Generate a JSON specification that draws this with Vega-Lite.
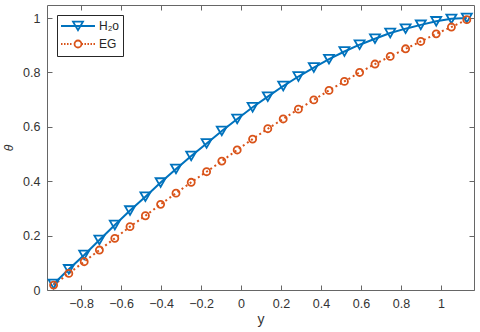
{
  "$schema": "https://vega.github.io/schema/vega-lite/v6.json",
  "width": 427,
  "height": 285,
  "autosize": {"type": "none"},
  "padding": {"left": 47, "top": 5, "right": 6, "bottom": 42},
  "background": "white",
  "data": {
    "values": [
      {"y": -0.937, "theta": 0.022, "series": "H₂o"},
      {"y": -0.861, "theta": 0.076, "series": "H₂o"},
      {"y": -0.784, "theta": 0.129, "series": "H₂o"},
      {"y": -0.708, "theta": 0.184, "series": "H₂o"},
      {"y": -0.631, "theta": 0.239, "series": "H₂o"},
      {"y": -0.555, "theta": 0.292, "series": "H₂o"},
      {"y": -0.478, "theta": 0.343, "series": "H₂o"},
      {"y": -0.402, "theta": 0.395, "series": "H₂o"},
      {"y": -0.325, "theta": 0.445, "series": "H₂o"},
      {"y": -0.249, "theta": 0.493, "series": "H₂o"},
      {"y": -0.172, "theta": 0.539, "series": "H₂o"},
      {"y": -0.096, "theta": 0.585, "series": "H₂o"},
      {"y": -0.019, "theta": 0.629, "series": "H₂o"},
      {"y": 0.058, "theta": 0.672, "series": "H₂o"},
      {"y": 0.134, "theta": 0.711, "series": "H₂o"},
      {"y": 0.211, "theta": 0.75, "series": "H₂o"},
      {"y": 0.287, "theta": 0.785, "series": "H₂o"},
      {"y": 0.364, "theta": 0.818, "series": "H₂o"},
      {"y": 0.44, "theta": 0.849, "series": "H₂o"},
      {"y": 0.517, "theta": 0.877, "series": "H₂o"},
      {"y": 0.593, "theta": 0.902, "series": "H₂o"},
      {"y": 0.67, "theta": 0.924, "series": "H₂o"},
      {"y": 0.746, "theta": 0.945, "series": "H₂o"},
      {"y": 0.823, "theta": 0.961, "series": "H₂o"},
      {"y": 0.899, "theta": 0.975, "series": "H₂o"},
      {"y": 0.976, "theta": 0.988, "series": "H₂o"},
      {"y": 1.052, "theta": 0.997, "series": "H₂o"},
      {"y": 1.129, "theta": 1.0, "series": "H₂o"},
      {"y": -0.937, "theta": 0.018, "series": "EG"},
      {"y": -0.861, "theta": 0.061, "series": "EG"},
      {"y": -0.784, "theta": 0.104, "series": "EG"},
      {"y": -0.708, "theta": 0.147, "series": "EG"},
      {"y": -0.631, "theta": 0.19, "series": "EG"},
      {"y": -0.555, "theta": 0.233, "series": "EG"},
      {"y": -0.478, "theta": 0.273, "series": "EG"},
      {"y": -0.402, "theta": 0.315, "series": "EG"},
      {"y": -0.325, "theta": 0.356, "series": "EG"},
      {"y": -0.249, "theta": 0.396, "series": "EG"},
      {"y": -0.172, "theta": 0.435, "series": "EG"},
      {"y": -0.096, "theta": 0.474, "series": "EG"},
      {"y": -0.019, "theta": 0.515, "series": "EG"},
      {"y": 0.058, "theta": 0.555, "series": "EG"},
      {"y": 0.134, "theta": 0.593, "series": "EG"},
      {"y": 0.211, "theta": 0.629, "series": "EG"},
      {"y": 0.287, "theta": 0.665, "series": "EG"},
      {"y": 0.364, "theta": 0.699, "series": "EG"},
      {"y": 0.44, "theta": 0.734, "series": "EG"},
      {"y": 0.517, "theta": 0.767, "series": "EG"},
      {"y": 0.593, "theta": 0.8, "series": "EG"},
      {"y": 0.67, "theta": 0.831, "series": "EG"},
      {"y": 0.746, "theta": 0.859, "series": "EG"},
      {"y": 0.823, "theta": 0.887, "series": "EG"},
      {"y": 0.899, "theta": 0.914, "series": "EG"},
      {"y": 0.976, "theta": 0.942, "series": "EG"},
      {"y": 1.052, "theta": 0.967, "series": "EG"},
      {"y": 1.129, "theta": 0.994, "series": "EG"}
    ]
  },
  "layer": [
    {
      "transform": [{"filter": "datum.series === 'H₂o'"}],
      "mark": {"type": "line", "strokeWidth": 2},
      "encoding": {
        "x": {
          "field": "y", "type": "quantitative",
          "scale": {"domain": [-0.97, 1.165], "nice": false, "zero": false},
          "axis": {
            "orient": "bottom",
            "values": [-0.8, -0.6, -0.4, -0.2, 0, 0.2, 0.4, 0.6, 0.8, 1],
            "format": "~g", "title": "y", "labelPadding": 12,
            "titleFontSize": 14, "titlePadding": 3
          }
        },
        "y": {
          "field": "theta", "type": "quantitative",
          "scale": {"domain": [0, 1.048], "nice": false, "zero": false},
          "axis": {
            "orient": "left",
            "values": [0, 0.2, 0.4, 0.6, 0.8, 1],
            "format": "~g", "title": "θ", "titleFontStyle": "italic",
            "labelPadding": 12, "titleFontSize": 12, "titlePadding": 7
          }
        },
        "color": {
          "field": "series", "type": "nominal",
          "scale": {"domain": ["H₂o", "EG"], "range": ["#0072BD", "#D95319"]},
          "legend": {
            "title": null,
            "orient": "top-left",
            "offset": 10,
            "padding": 4,
            "strokeColor": "#262626",
            "fillColor": "white",
            "symbolSize": 144,
            "symbolOffset": 10,
            "labelOffset": 14,
            "rowPadding": 2,
            "labelFont": "Liberation Sans",
            "labelFontSize": 12,
            "labelColor": "#262626",
            "encode": {
              "symbols": {
                "update": {
                  "shape": [
                    {"test": "datum.value === 'EG'", "value": "M-2.83,0L-2.58,0M-2.33,0L-2.08,0M-1.83,0L-1.58,0M-1.33,0L-1.08,0M0.58,0L0.83,0M1.08,0L1.33,0M1.58,0L1.83,0M2.08,0L2.33,0M2.58,0L2.83,0M0.58,0A0.58,0.58,0,1,1,-0.58,0A0.58,0.58,0,1,1,0.58,0Z"},
                    {"value": "M-2.83,0L2.83,0M-0.83,-0.72L0.83,-0.72L0,0.72Z"}
                  ],
                  "size": {"value": 144},
                  "fill": {"value": "transparent"},
                  "strokeWidth": {"value": 1.8},
                  "opacity": {"value": 1}
                }
              }
            }
          }
        }
      }
    },
    {
      "transform": [{"filter": "datum.series === 'EG'"}],
      "mark": {"type": "line", "strokeWidth": 2, "strokeDash": [2, 3]},
      "encoding": {
        "x": {"field": "y", "type": "quantitative", "axis": null},
        "y": {"field": "theta", "type": "quantitative", "axis": null},
        "color": {"field": "series", "type": "nominal"}
      }
    },
    {
      "transform": [{"filter": "datum.series === 'H₂o'"}],
      "mark": {"type": "point", "shape": "triangle-down", "size": 100, "filled": false, "strokeWidth": 1.8, "opacity": 1},
      "encoding": {
        "x": {"field": "y", "type": "quantitative", "axis": null},
        "y": {"field": "theta", "type": "quantitative", "axis": null},
        "color": {"field": "series", "type": "nominal"}
      }
    },
    {
      "transform": [{"filter": "datum.series === 'EG'"}],
      "mark": {"type": "point", "shape": "circle", "size": 50, "filled": false, "strokeWidth": 1.8, "opacity": 1},
      "encoding": {
        "x": {
          "field": "y", "type": "quantitative",
          "axis": {
            "orient": "top",
            "values": [-0.8, -0.6, -0.4, -0.2, 0, 0.2, 0.4, 0.6, 0.8, 1],
            "labels": false, "title": null
          }
        },
        "y": {
          "field": "theta", "type": "quantitative",
          "axis": {
            "orient": "right",
            "values": [0, 0.2, 0.4, 0.6, 0.8, 1],
            "labels": false, "title": null
          }
        },
        "color": {"field": "series", "type": "nominal"}
      }
    }
  ],
  "resolve": {"axis": {"x": "independent", "y": "independent"}},
  "config": {
    "view": {"stroke": "#666666", "strokeWidth": 1},
    "axis": {
      "domain": false,
      "grid": false,
      "tickColor": "#666666",
      "tickSize": -5,
      "labelFont": "Liberation Sans",
      "labelFontSize": 12.5,
      "labelColor": "#333333",
      "titleFont": "Liberation Sans",
      "titleFontWeight": "normal",
      "titleColor": "#333333"
    }
  }
}
